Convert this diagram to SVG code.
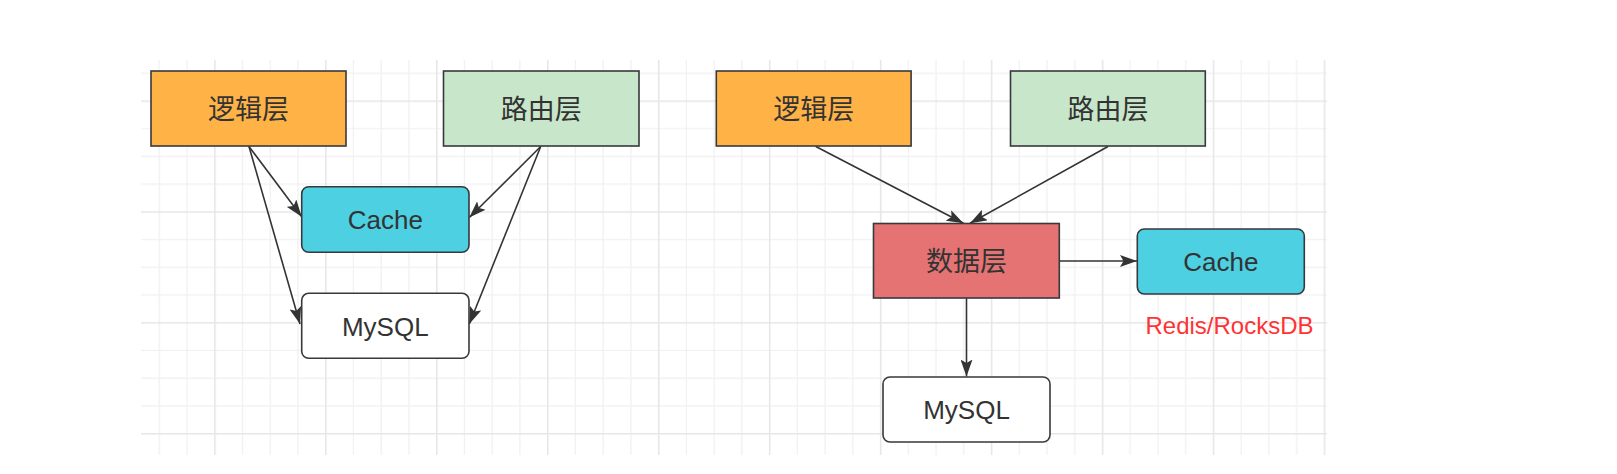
<svg xmlns="http://www.w3.org/2000/svg" width="1617" height="474" viewBox="0 0 1617 474">
  <defs>
    <style>
      .box { stroke: #36393d; stroke-width: 1.6; }
      .cn { font-family: "Liberation Sans", "Noto Sans CJK SC", sans-serif; font-size: 27px; fill: #333333; text-anchor: middle; }
      .en { font-family: "Liberation Sans", "Noto Sans CJK SC", sans-serif; font-size: 26px; fill: #333333; text-anchor: middle; }
      .note { font-family: "Liberation Sans", "Noto Sans CJK SC", sans-serif; font-size: 24px; fill: #ff3333; text-anchor: middle; }
      .edge { stroke: #333333; stroke-width: 1.6; fill: none; marker-end: url(#arrow); }
    </style>
    <marker id="arrow" markerUnits="userSpaceOnUse" markerWidth="17" markerHeight="12" refX="17" refY="6" orient="auto">
      <path d="M0,0 L17,6 L0,12 L3.5,6 Z" fill="#333333"/>
    </marker>
    <pattern id="grid" patternUnits="userSpaceOnUse" x="214.13" y="100.35" width="110.96" height="110.88">
      <rect x="27.74" y="0" width="1.3" height="110.88" fill="#f1f1f1"/>
      <rect x="55.48" y="0" width="1.3" height="110.88" fill="#f1f1f1"/>
      <rect x="83.22" y="0" width="1.3" height="110.88" fill="#f1f1f1"/>
      <rect x="0" y="27.72" width="110.96" height="1.3" fill="#f1f1f1"/>
      <rect x="0" y="55.44" width="110.96" height="1.3" fill="#f1f1f1"/>
      <rect x="0" y="83.16" width="110.96" height="1.3" fill="#f1f1f1"/>
      <rect x="0" y="0" width="1.5" height="110.88" fill="#e6e6e6"/>
      <rect x="0" y="0" width="110.96" height="1.5" fill="#e6e6e6"/>
    </pattern>
  </defs>
  <rect x="0" y="0" width="1617" height="474" fill="#ffffff"/>
  <rect id="grid-bg" x="141" y="60" width="1186" height="395" fill="url(#grid)"/>

  <g id="connectors">
    <path class="edge" d="M249,146.5 L301.7,216.7"/>
    <path class="edge" d="M249,146.5 L300,324"/>
    <path class="edge" d="M540.7,146.5 L469.3,217.5"/>
    <path class="edge" d="M540.7,146.5 L469.3,324"/>
    <path class="edge" d="M815.8,146.5 L963.5,223.3"/>
    <path class="edge" d="M1108,146.5 L970,223.3"/>
    <path class="edge" d="M966.5,298 L966.5,376.5"/>
    <path class="edge" d="M1059.5,261 L1137,261"/>
  </g>

  <g id="left-logic">
    <rect class="box" x="151" y="71" width="195" height="75" fill="#ffb347"/>
    <text class="cn" x="248.5" y="118.5">逻辑层</text>
  </g>
  <g id="left-route">
    <rect class="box" x="443.5" y="71" width="195.5" height="75" fill="#c8e6c9"/>
    <text class="cn" x="541.2" y="118.5">路由层</text>
  </g>
  <g id="left-cache">
    <rect class="box" x="301.7" y="186.7" width="167.3" height="65.6" rx="7" fill="#4dd0e1"/>
    <text class="en" x="385.3" y="228.5">Cache</text>
  </g>
  <g id="left-mysql">
    <rect class="box" x="301.7" y="293.3" width="167.3" height="65" rx="7" fill="#ffffff"/>
    <text class="en" x="385.3" y="335.5">MySQL</text>
  </g>

  <g id="right-logic">
    <rect class="box" x="716.3" y="71" width="194.8" height="75" fill="#ffb347"/>
    <text class="cn" x="813.7" y="118.5">逻辑层</text>
  </g>
  <g id="right-route">
    <rect class="box" x="1010.5" y="71" width="194.8" height="75" fill="#c8e6c9"/>
    <text class="cn" x="1107.9" y="118.5">路由层</text>
  </g>
  <g id="right-data">
    <rect class="box" x="873.5" y="223.5" width="185.8" height="74.5" fill="#e57373"/>
    <text class="cn" x="966.4" y="271">数据层</text>
  </g>
  <g id="right-cache">
    <rect class="box" x="1137.3" y="229" width="167" height="65" rx="7" fill="#4dd0e1"/>
    <text class="en" x="1220.8" y="270.5">Cache</text>
    <text class="note" x="1229.5" y="333.5">Redis/RocksDB</text>
  </g>
  <g id="right-mysql">
    <rect class="box" x="883" y="377" width="167" height="65" rx="7" fill="#ffffff"/>
    <text class="en" x="966.5" y="419">MySQL</text>
  </g>
</svg>
